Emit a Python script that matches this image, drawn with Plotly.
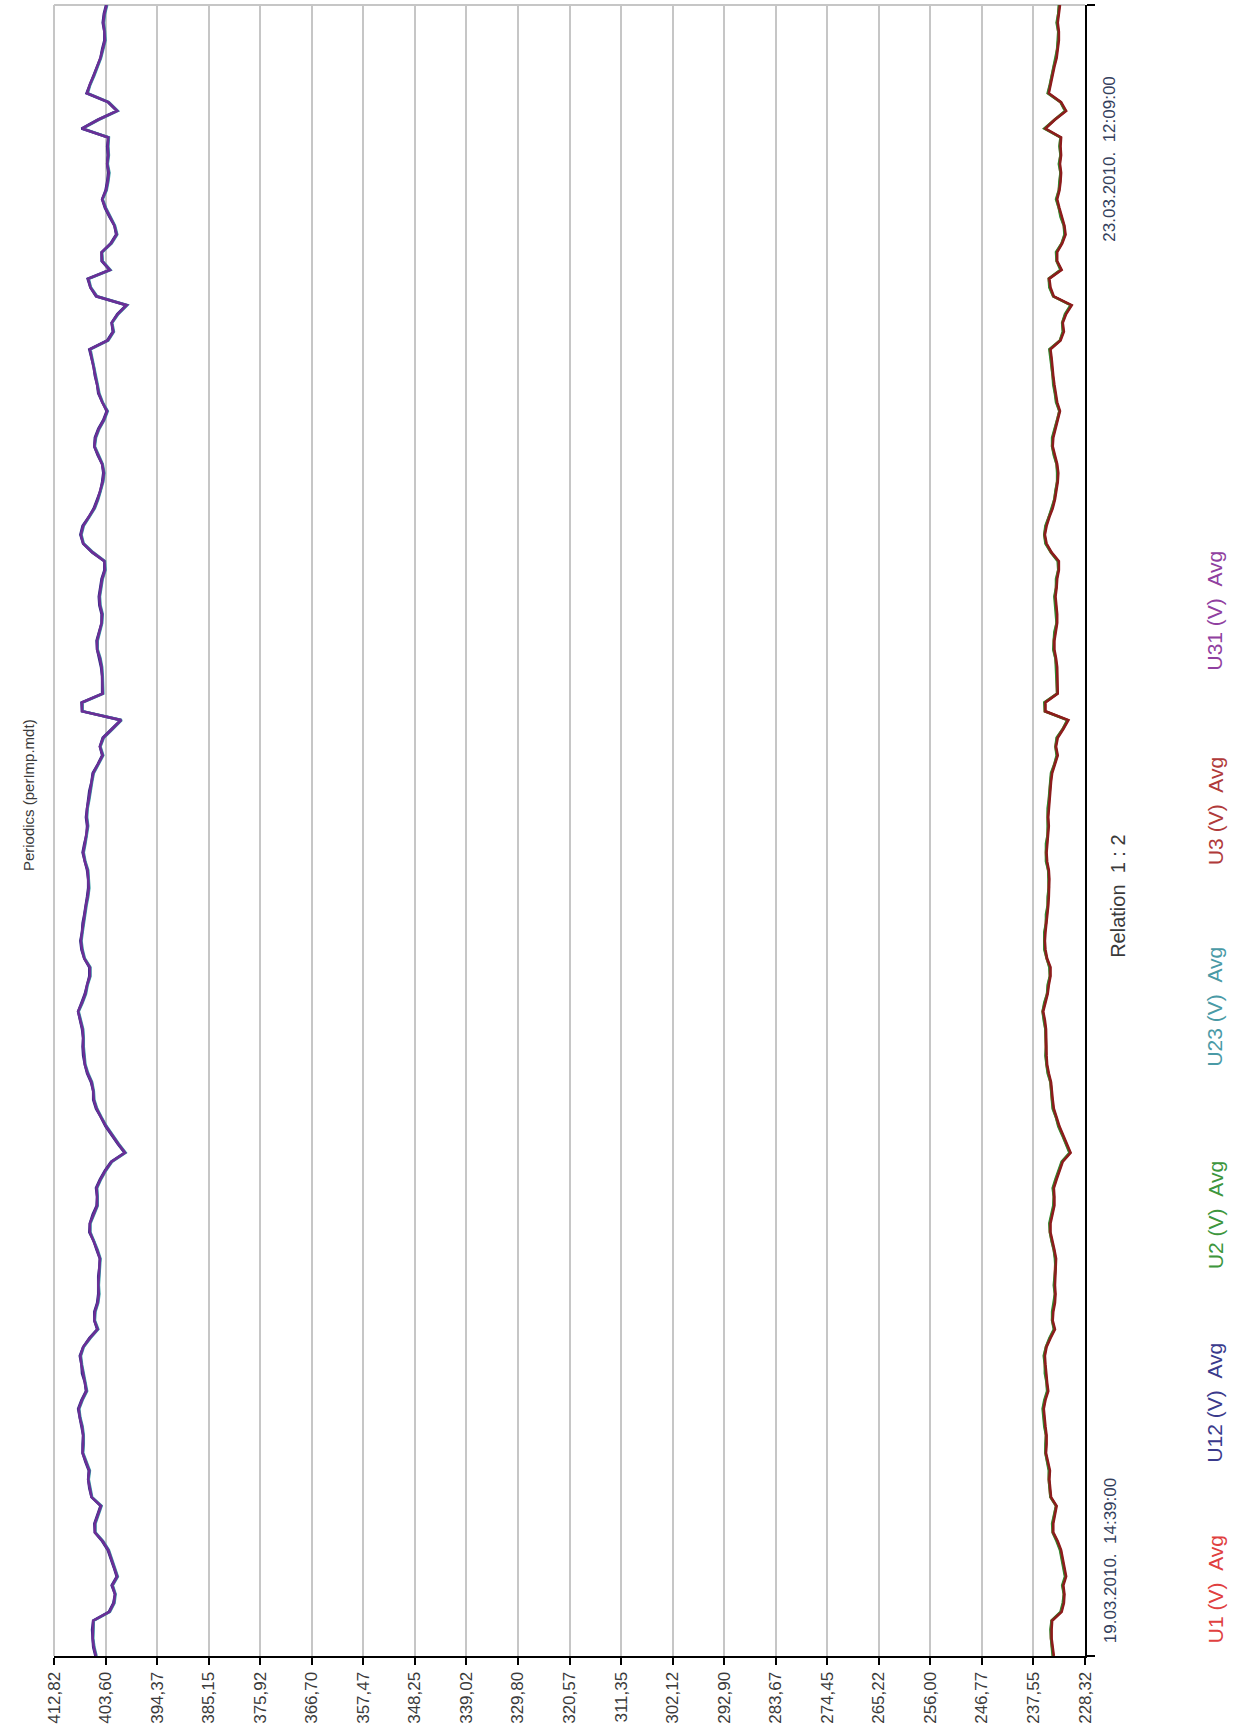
import pandas as pd
import plotly.graph_objects as go

# Time base: 30-minute averages from 19.03.2010 14:39 to 23.03.2010 12:09
START = "2010-03-19 14:39"
N_POINTS = 188
times = pd.date_range(START, periods=N_POINTS, freq="30min")

# Line-to-line voltages (V)
U12 = [
    405.4, 405.8, 405.9, 406.0, 405.8, 403.0, 402.2, 401.9, 402.5, 401.6,
    402.1, 402.6, 403.2, 404.2, 405.5, 405.6, 405.1, 404.5, 406.1, 406.5,
    406.7, 406.6, 407.2, 407.7, 407.7, 407.6, 407.9, 408.2, 408.5, 407.9,
    407.1, 407.3, 407.8, 407.9, 408.2, 407.6, 406.5, 405.1, 405.6, 405.6,
    405.1, 404.9, 404.9, 404.9, 404.7, 404.6, 405.2, 405.7, 406.5, 406.4,
    405.9, 405.2, 405.1, 405.3, 404.6, 403.7, 402.6, 400.2, 401.4, 402.5,
    403.6, 404.4, 405.3, 405.8, 405.8, 406.2, 406.9, 407.3, 407.6, 407.7,
    407.6, 407.8, 408.2, 408.5, 407.9, 407.3, 406.9, 406.5, 406.5, 407.4,
    407.9, 408.1, 407.8, 407.7, 407.4, 407.1, 406.9, 406.7, 406.7, 406.9,
    407.3, 407.7, 407.4, 407.0, 406.9, 407.1, 406.9, 406.7, 406.5, 406.1,
    405.9, 405.0, 404.2, 404.6, 404.1, 402.5, 400.9, 407.8, 407.9, 404.2,
    404.2, 404.2, 404.4, 404.7, 405.1, 405.2, 404.8, 404.3, 404.3, 404.7,
    404.8, 404.5, 404.3, 403.8, 403.8, 406.0, 407.6, 408.1, 407.7, 406.6,
    405.7, 405.1, 404.5, 404.2, 404.0, 404.2, 405.0, 405.6, 405.5, 404.9,
    404.0, 403.4, 404.2, 404.9, 405.1, 405.5, 405.7, 406.1, 406.5, 403.3,
    402.3, 402.5, 401.5, 399.9, 405.3, 406.3, 406.8, 402.9, 404.3, 404.3,
    402.7, 401.7, 402.0, 402.9, 403.7, 404.2, 403.6, 403.3, 403.1, 403.3,
    403.2, 403.3, 403.1, 407.9, 405.0, 401.6, 403.2, 407.0, 406.4, 405.8,
    405.2, 404.5, 404.2, 403.8, 403.8, 404.1, 403.9, 403.5,
]
U23 = [
    405.2, 405.6, 405.8, 405.8, 405.7, 402.8, 402.0, 401.8, 402.3, 401.4,
    401.9, 402.5, 403.0, 404.0, 405.4, 405.4, 404.9, 404.3, 406.0, 406.3,
    406.6, 406.4, 407.0, 407.6, 407.5, 407.5, 407.7, 408.1, 408.3, 407.7,
    406.9, 407.2, 407.6, 407.8, 408.0, 407.5, 406.3, 404.9, 405.5, 405.4,
    404.9, 404.7, 404.8, 404.7, 404.5, 404.5, 405.0, 405.6, 406.3, 406.3,
    405.7, 405.0, 405.0, 405.1, 404.4, 403.5, 402.4, 400.0, 401.2, 402.3,
    403.4, 404.3, 405.1, 405.6, 405.7, 406.0, 406.7, 407.2, 407.4, 407.5,
    407.5, 407.6, 408.0, 408.4, 407.7, 407.1, 406.8, 406.3, 406.3, 407.3,
    407.7, 407.9, 407.7, 407.5, 407.2, 407.0, 406.7, 406.5, 406.6, 406.7,
    407.2, 407.5, 407.2, 406.9, 406.7, 406.9, 406.8, 406.5, 406.3, 406.0,
    405.7, 404.8, 404.0, 404.5, 403.9, 402.3, 400.7, 407.7, 407.7, 404.0,
    404.0, 404.1, 404.2, 404.5, 405.0, 405.0, 404.6, 404.2, 404.1, 404.5,
    404.6, 404.4, 404.1, 403.6, 403.7, 405.8, 407.5, 407.9, 407.5, 406.5,
    405.5, 404.9, 404.4, 404.0, 403.8, 404.1, 404.8, 405.5, 405.3, 404.7,
    403.8, 403.2, 404.1, 404.7, 405.0, 405.3, 405.6, 405.9, 406.3, 403.1,
    402.1, 402.4, 401.3, 399.7, 405.1, 406.2, 406.6, 402.7, 404.1, 404.2,
    402.5, 401.5, 401.9, 402.7, 403.5, 404.1, 403.4, 403.1, 402.9, 403.2,
    403.0, 403.1, 403.0, 407.7, 404.8, 401.4, 403.0, 406.8, 406.3, 405.6,
    405.0, 404.4, 404.0, 403.6, 403.7, 403.9, 403.7, 403.3,
]
U31 = [
    405.3, 405.7, 405.9, 405.9, 405.8, 402.9, 402.1, 401.9, 402.4, 401.5,
    402.0, 402.6, 403.1, 404.1, 405.5, 405.5, 405.0, 404.4, 406.1, 406.4,
    406.7, 406.5, 407.1, 407.7, 407.6, 407.6, 407.8, 408.2, 408.4, 407.8,
    407.0, 407.3, 407.7, 407.9, 408.1, 407.6, 406.4, 405.0, 405.6, 405.5,
    405.0, 404.8, 404.9, 404.8, 404.6, 404.6, 405.1, 405.7, 406.4, 406.4,
    405.8, 405.1, 405.1, 405.2, 404.5, 403.6, 402.5, 400.1, 401.3, 402.4,
    403.5, 404.4, 405.2, 405.7, 405.8, 406.1, 406.8, 407.3, 407.5, 407.6,
    407.6, 407.7, 408.1, 408.5, 407.8, 407.2, 406.9, 406.4, 406.4, 407.4,
    407.8, 408.0, 407.8, 407.6, 407.3, 407.1, 406.8, 406.6, 406.7, 406.8,
    407.3, 407.6, 407.3, 407.0, 406.8, 407.0, 406.9, 406.6, 406.4, 406.1,
    405.8, 404.9, 404.1, 404.6, 404.0, 402.4, 400.8, 407.8, 407.8, 404.1,
    404.1, 404.2, 404.3, 404.6, 405.1, 405.1, 404.7, 404.3, 404.2, 404.6,
    404.7, 404.5, 404.2, 403.7, 403.8, 405.9, 407.6, 408.0, 407.6, 406.6,
    405.6, 405.0, 404.5, 404.1, 403.9, 404.2, 404.9, 405.6, 405.4, 404.8,
    403.9, 403.3, 404.2, 404.8, 405.1, 405.4, 405.7, 406.0, 406.4, 403.2,
    402.2, 402.5, 401.4, 399.8, 405.2, 406.3, 406.7, 402.8, 404.2, 404.3,
    402.6, 401.6, 402.0, 402.8, 403.6, 404.2, 403.5, 403.2, 403.0, 403.3,
    403.1, 403.2, 403.1, 407.8, 404.9, 401.5, 403.1, 406.9, 406.4, 405.7,
    405.1, 404.5, 404.1, 403.7, 403.8, 404.0, 403.8, 403.4,
]

# Phase voltages (V)
U1 = [
    234.0, 234.2, 234.4, 234.4, 234.3, 232.6, 232.2, 232.1, 232.3, 231.8,
    232.1, 232.5, 232.7, 233.3, 234.1, 234.1, 233.8, 233.5, 234.5, 234.6,
    234.8, 234.7, 235.0, 235.4, 235.3, 235.3, 235.5, 235.7, 235.8, 235.5,
    235.0, 235.2, 235.4, 235.5, 235.6, 235.3, 234.6, 233.8, 234.2, 234.1,
    233.8, 233.7, 233.8, 233.7, 233.6, 233.6, 233.9, 234.2, 234.6, 234.6,
    234.3, 233.9, 233.9, 234.0, 233.5, 233.0, 232.4, 231.0, 231.7, 232.3,
    233.0, 233.5, 234.0, 234.2, 234.3, 234.5, 234.9, 235.2, 235.3, 235.3,
    235.3, 235.4, 235.6, 235.9, 235.5, 235.1, 234.9, 234.6, 234.6, 235.2,
    235.5, 235.6, 235.5, 235.3, 235.2, 235.0, 234.9, 234.8, 234.8, 234.9,
    235.2, 235.3, 235.2, 235.0, 234.9, 235.0, 234.9, 234.8, 234.6, 234.5,
    234.3, 233.8, 233.3, 233.6, 233.3, 232.3, 231.4, 235.5, 235.5, 233.3,
    233.3, 233.4, 233.4, 233.6, 233.9, 233.9, 233.7, 233.4, 233.4, 233.6,
    233.7, 233.5, 233.4, 233.1, 233.1, 234.4, 235.3, 235.6, 235.3, 234.8,
    234.2, 233.8, 233.5, 233.3, 233.2, 233.4, 233.8, 234.2, 234.1, 233.7,
    233.2, 232.9, 233.4, 233.7, 233.9, 234.1, 234.2, 234.4, 234.6, 232.8,
    232.2, 232.4, 231.8, 230.8, 234.0, 234.6, 234.8, 232.6, 233.4, 233.4,
    232.5, 231.9, 232.1, 232.6, 233.0, 233.4, 233.0, 232.8, 232.7, 232.9,
    232.7, 232.8, 232.7, 235.5, 233.8, 231.8, 232.7, 234.9, 234.6, 234.2,
    233.9, 233.5, 233.3, 233.1, 233.1, 233.3, 233.1, 232.9,
]
U2 = [
    234.1, 234.3, 234.4, 234.5, 234.3, 232.7, 232.3, 232.1, 232.4, 231.9,
    232.2, 232.5, 232.8, 233.4, 234.1, 234.2, 233.9, 233.5, 234.5, 234.7,
    234.8, 234.8, 235.1, 235.4, 235.4, 235.3, 235.6, 235.7, 235.9, 235.6,
    235.1, 235.2, 235.5, 235.5, 235.7, 235.3, 234.7, 233.9, 234.2, 234.2,
    233.9, 233.7, 233.9, 233.8, 233.6, 233.7, 233.9, 234.3, 234.6, 234.7,
    234.3, 234.0, 233.9, 234.1, 233.6, 233.0, 232.5, 231.1, 231.7, 232.4,
    233.1, 233.5, 234.1, 234.2, 234.4, 234.5, 235.0, 235.2, 235.4, 235.3,
    235.4, 235.4, 235.7, 235.9, 235.6, 235.1, 235.0, 234.6, 234.7, 235.2,
    235.6, 235.6, 235.6, 235.3, 235.3, 235.0, 235.0, 234.8, 234.9, 234.9,
    235.3, 235.3, 235.3, 235.0, 235.0, 235.0, 235.0, 234.8, 234.7, 234.5,
    234.4, 233.8, 233.4, 233.6, 233.4, 232.3, 231.5, 235.5, 235.6, 233.3,
    233.4, 233.4, 233.5, 233.6, 234.0, 233.9, 233.8, 233.4, 233.5, 233.6,
    233.8, 233.5, 233.5, 233.1, 233.2, 234.4, 235.4, 235.6, 235.4, 234.8,
    234.3, 233.8, 233.6, 233.3, 233.3, 233.4, 233.9, 234.2, 234.2, 233.7,
    233.3, 232.9, 233.5, 233.7, 234.0, 234.1, 234.3, 234.4, 234.7, 232.8,
    232.3, 232.4, 231.9, 230.9, 234.0, 234.7, 234.8, 232.7, 233.4, 233.5,
    232.5, 232.0, 232.1, 232.7, 233.0, 233.5, 233.0, 232.9, 232.7, 233.0,
    232.7, 232.9, 232.7, 235.6, 233.8, 231.9, 232.7, 235.0, 234.6, 234.3,
    233.9, 233.6, 233.3, 233.2, 233.1, 233.4, 233.1, 233.0,
]
U3 = [
    233.9, 234.1, 234.3, 234.3, 234.2, 232.5, 232.1, 232.0, 232.2, 231.7,
    232.0, 232.4, 232.6, 233.2, 234.0, 234.0, 233.7, 233.4, 234.4, 234.5,
    234.7, 234.6, 234.9, 235.3, 235.2, 235.2, 235.4, 235.6, 235.7, 235.4,
    234.9, 235.1, 235.3, 235.4, 235.5, 235.2, 234.5, 233.7, 234.1, 234.0,
    233.7, 233.6, 233.7, 233.6, 233.5, 233.5, 233.8, 234.1, 234.5, 234.5,
    234.2, 233.8, 233.8, 233.9, 233.4, 232.9, 232.3, 230.9, 231.6, 232.2,
    232.9, 233.4, 233.9, 234.1, 234.2, 234.4, 234.8, 235.1, 235.2, 235.2,
    235.2, 235.3, 235.5, 235.8, 235.4, 235.0, 234.8, 234.5, 234.5, 235.1,
    235.4, 235.5, 235.4, 235.2, 235.1, 234.9, 234.8, 234.7, 234.7, 234.8,
    235.1, 235.2, 235.1, 234.9, 234.8, 234.9, 234.8, 234.7, 234.5, 234.4,
    234.2, 233.7, 233.2, 233.5, 233.2, 232.2, 231.3, 235.4, 235.4, 233.2,
    233.2, 233.3, 233.3, 233.5, 233.8, 233.8, 233.6, 233.3, 233.3, 233.5,
    233.6, 233.4, 233.3, 233.0, 233.0, 234.3, 235.2, 235.5, 235.2, 234.7,
    234.1, 233.7, 233.4, 233.2, 233.1, 233.3, 233.7, 234.1, 234.0, 233.6,
    233.1, 232.8, 233.3, 233.6, 233.8, 234.0, 234.1, 234.3, 234.5, 232.7,
    232.1, 232.3, 231.7, 230.7, 233.9, 234.5, 234.7, 232.5, 233.3, 233.3,
    232.4, 231.8, 232.0, 232.5, 232.9, 233.3, 232.9, 232.7, 232.6, 232.8,
    232.6, 232.7, 232.6, 235.4, 233.7, 231.7, 232.6, 234.8, 234.5, 234.1,
    233.8, 233.4, 233.2, 233.0, 233.0, 233.2, 233.0, 232.8,
]

# Value-axis scale
TICK_VALUES = [412.82, 403.60, 394.37, 385.15, 375.92, 366.70, 357.47,
               348.25, 339.02, 329.80, 320.57, 311.35, 302.12, 292.90,
               283.67, 274.45, 265.22, 256.00, 246.77, 237.55, 228.32]
TICK_TEXT = [f"{v:.2f}".replace(".", ",") for v in TICK_VALUES]

SP = "\u00a0"
SERIES = [
    (f"U1 (V){SP*2}Avg", U1, "#e3262a", "#e04040"),
    (f"U12 (V){SP*2}Avg", U12, "#2b2b85", "#3a3a8c"),
    (f"U2 (V){SP*2}Avg", U2, "#2f8a2f", "#3d963d"),
    (f"U23 (V){SP*2}Avg", U23, "#35a3a8", "#4a9aa6"),
    (f"U3 (V){SP*2}Avg", U3, "#8c1c1c", "#b03a3a"),
    (f"U31 (V){SP*2}Avg", U31, "#6b2e96", "#9040a0"),
]

W, H = 1246, 1729
L, R, T, B = 54, 1085, 5, 1660          # plot-area edges in pixels
FONT = "Liberation Sans, Arial, sans-serif"


def px(x):
    return (x - L) / (R - L)


def py(y):
    return (B - y) / (B - T)


fig = go.Figure()
for name, vals, color, _ in SERIES:
    fig.add_trace(go.Scatter(
        x=vals, y=times, mode="lines", name=name,
        line=dict(color=color, width=2.6), showlegend=False,
    ))

fig.update_layout(
    width=W, height=H,
    margin=dict(l=L, r=W - R, t=T, b=H - B),
    paper_bgcolor="white", plot_bgcolor="white",
    font=dict(family=FONT, size=17, color="#3a3a3a"),
    xaxis=dict(
        range=[TICK_VALUES[0], TICK_VALUES[-1]],
        tickmode="array", tickvals=TICK_VALUES, ticktext=TICK_TEXT,
        tickangle=-90, ticks="outside", ticklen=7, tickwidth=2,
        tickcolor="black", showline=True, linecolor="black", linewidth=2,
        showgrid=True, gridcolor="#c6c6c6", gridwidth=2, zeroline=False,
        tickfont=dict(size=17, color="#3a3a3a"),
    ),
    yaxis=dict(
        type="date", range=[times[0], times[-1]], side="right",
        showline=True, linecolor="black", linewidth=2,
        tickmode="array", tickvals=[times[0], times[-1]],
        ticks="outside", ticklen=8, tickwidth=2, tickcolor="black",
        showticklabels=False, showgrid=False, zeroline=False,
    ),
)

# Light frame on the top and left edges of the plot area
fig.add_shape(type="line", xref="paper", yref="paper", x0=0, x1=1, y0=1, y1=1,
              line=dict(color="#c6c6c6", width=2), layer="below")
fig.add_shape(type="line", xref="paper", yref="paper", x0=0, x1=0, y0=0, y1=1,
              line=dict(color="#c6c6c6", width=2), layer="below")


def vtext(text, x, y, color, size=17):
    fig.add_annotation(
        text=text, xref="paper", yref="paper", x=px(x), y=py(y),
        xanchor="center", yanchor="middle", textangle=-90, showarrow=False,
        font=dict(family=FONT, size=size, color=color),
    )


vtext("Periodics (perImp.mdt)", 28, 797, "#3a3a3a", size=15)
vtext(f"19.03.2010.{SP*2}14:39:00", 1110, 1565, "#34405c")
vtext(f"23.03.2010.{SP*2}12:09:00", 1110, 160, "#34405c")
vtext(f"Relation{SP*2}1{SP}:{SP}2", 1118, 899, "#3a3a3a", size=20)

legend_y = [1593, 1406, 1218, 1009, 813, 612]
for (name, _, _, text_color), y in zip(SERIES, legend_y):
    vtext(name, 1215, y, text_color, size=21)

fig.write_html("out.html")
